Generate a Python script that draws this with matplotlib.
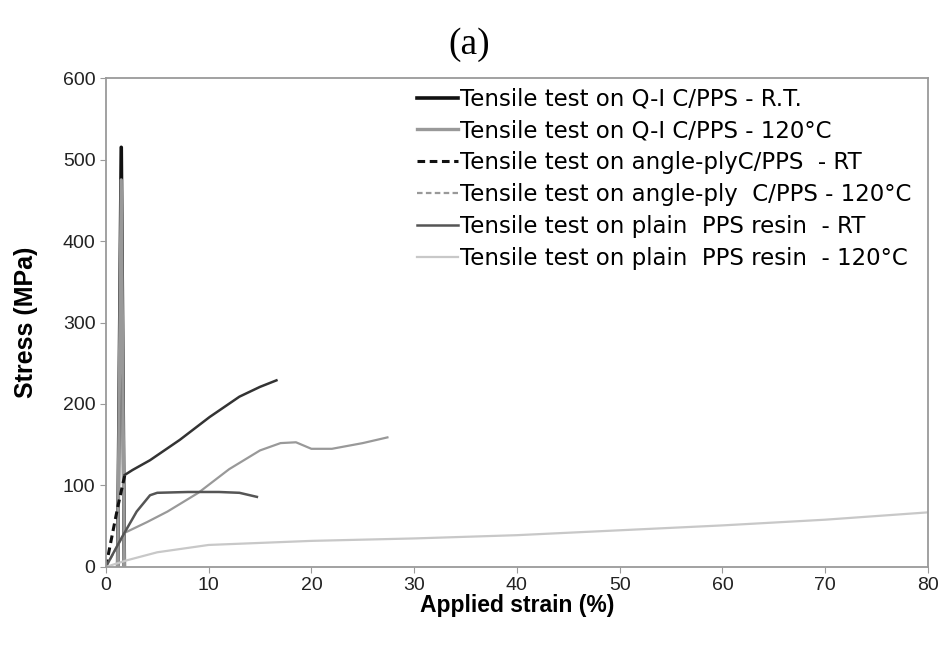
import matplotlib
matplotlib.use("Agg")
import matplotlib.pyplot as plt

# Q-I C/PPS (spike at ~1.5 % strain)
qi_rt_strain = [1.15, 1.5, 1.8]
qi_rt_stress = [0, 515, 0]
qi_120_strain = [1.15, 1.5, 1.8]
qi_120_stress = [0, 475, 0]

# angle-ply C/PPS RT
ap_rt_strain = [0, 0.6, 1.2, 1.85, 2.6, 4.3, 7.2, 10.1, 13, 15, 16.6]
ap_rt_stress = [0, 38, 76, 113, 119, 131, 156, 184, 209, 221, 229]

# angle-ply C/PPS 120C
ap_120_strain = [0, 1.85, 4, 6, 9, 12, 15, 17, 18.5, 20, 22, 25, 27.4]
ap_120_stress = [0, 42, 55, 68, 91, 120, 143, 152, 153, 145, 145, 152, 159]

# plain PPS resin
res_rt_strain = [0, 1.5, 3, 4.3, 5, 8, 11, 13, 14.7]
res_rt_stress = [0, 35, 68, 88, 91, 92, 92, 91, 86]
res_120_strain = [0, 2, 5, 10, 20, 30, 40, 50, 60, 70, 80]
res_120_stress = [0, 8, 18, 27, 32, 35, 39, 45, 51, 58, 67]

labels = [
    "Tensile test on Q-I C/PPS - R.T.",
    "Tensile test on Q-I C/PPS - 120\u00b0C",
    "Tensile test on angle-plyC/PPS  - RT",
    "Tensile test on angle-ply  C/PPS - 120\u00b0C",
    "Tensile test on plain  PPS resin  - RT",
    "Tensile test on plain  PPS resin  - 120\u00b0C",
]

plt.rcParams['font.family'] = ['Liberation Sans', 'DejaVu Sans']

fig = plt.figure(figsize=(9.45, 6.45), dpi=100)
ax = fig.add_axes([0.112, 0.121, 0.870, 0.758])

k = 4  # points in the dashed start of the angle-ply curves
h1, = ax.plot(qi_rt_strain, qi_rt_stress, color='#111111', lw=2.6)
h2, = ax.plot(qi_120_strain, qi_120_stress, color='#999999', lw=2.4)
h3, = ax.plot(ap_rt_strain[:k], ap_rt_stress[:k], color='#111111', lw=2.2, ls=(0, (2.5, 1.5)))
ax.plot(ap_rt_strain[k - 1:], ap_rt_stress[k - 1:], color='#333333', lw=1.8)
h4, = ax.plot(ap_120_strain[:2], ap_120_stress[:2], color='#999999', lw=1.6, ls=(0, (2.5, 1.5)))
ax.plot(ap_120_strain[1:], ap_120_stress[1:], color='#999999', lw=1.6)
h5, = ax.plot(res_rt_strain, res_rt_stress, color='#555555', lw=1.8)
h6, = ax.plot(res_120_strain, res_120_stress, color='#c8c8c8', lw=1.6)

ax.set_xlim(0, 80)
ax.set_ylim(0, 600)
ax.set_xticks(range(0, 81, 10))
ax.set_yticks(range(0, 601, 100))
for s in ax.spines.values():
    s.set_color('#9a9a9a')
    s.set_linewidth(1.3)
ax.tick_params(colors='#9a9a9a', length=4, labelsize=14, labelcolor='#222222')

ax.set_xlabel("Applied strain (%)", fontsize=16.5, fontweight='bold', labelpad=0)
ax.set_ylabel("Stress (MPa)", fontsize=18, fontweight='bold', labelpad=18)
fig.text(0.497, 0.93, "(a)", fontsize=27, family='Liberation Serif', ha='center', va='center')

ax.legend([h1, h2, h3, h4, h5, h6], labels, loc='upper left',
          bbox_to_anchor=(0.364, 1.004), frameon=False,
          prop={'family': 'DejaVu Sans', 'size': 16.5},
          handlelength=1.8, handletextpad=0.1, labelspacing=0.39, borderpad=0)

fig.savefig("out.png", dpi=100)
